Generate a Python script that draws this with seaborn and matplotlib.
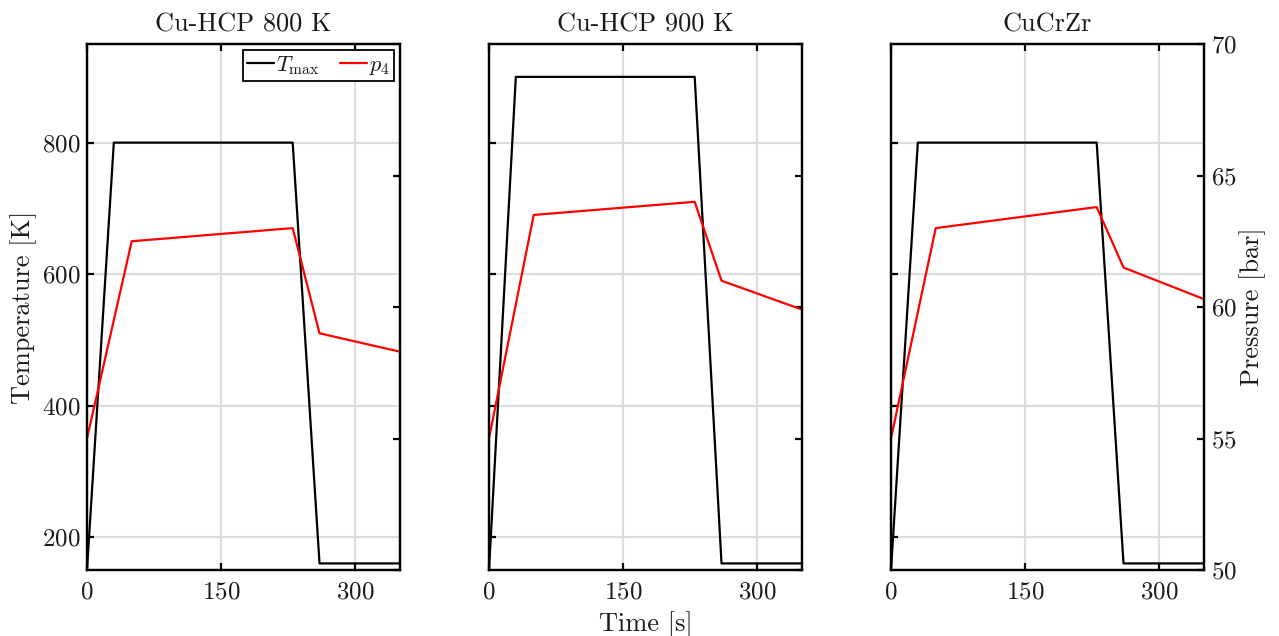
import matplotlib
matplotlib.use("Agg")
import matplotlib.pyplot as plt
import seaborn as sns
import pandas as pd

# Time-history of maximum temperature and pressure p4 for three materials
titles = ["Cu-HCP 800 K", "Cu-HCP 900 K", "CuCrZr"]

t_temp = [0, 30, 230, 260, 350]
temp_800 = [150, 800, 800, 160, 160]
temp_900 = [150, 900, 900, 160, 160]
temp_cucrzr = [150, 800, 800, 160, 160]

t_pres = [0, 50, 230, 260, 350]
pres_800 = [55.0, 62.5, 63.0, 59.0, 58.3]
pres_900 = [55.0, 63.5, 64.0, 61.0, 59.9]
pres_cucrzr = [55.0, 63.0, 63.8, 61.5, 60.3]

temps = [temp_800, temp_900, temp_cucrzr]
pressures = [pres_800, pres_900, pres_cucrzr]

sns.set_theme(style="ticks")
plt.rcParams.update({
    "font.family": "cmr10",
    "mathtext.fontset": "cm",
    "axes.formatter.use_mathtext": True,
    "font.size": 19,
    "axes.linewidth": 1.6,
    "xtick.direction": "in",
    "ytick.direction": "in",
    "xtick.major.size": 5,
    "ytick.major.size": 5,
    "xtick.major.width": 1.6,
    "ytick.major.width": 1.6,
    "xtick.color": "black",
    "ytick.color": "black",
    "axes.edgecolor": "black",
    "text.color": "#1a1a1a",
    "axes.labelcolor": "#1a1a1a",
    "xtick.labelcolor": "#1a1a1a",
    "ytick.labelcolor": "#1a1a1a",
})

fig = plt.figure(figsize=(12.79, 6.36), dpi=100)
lefts = [87, 489, 891]
W, H = 1279, 636
ax_w = 313 / W
ax_b = 1 - 570 / H
ax_h = (570 - 44) / H

for i in range(3):
    ax = fig.add_axes([lefts[i] / W, ax_b, ax_w, ax_h])
    ax2 = ax.twinx()
    df_t = pd.DataFrame({"Time": t_temp, "T": temps[i]})
    df_p = pd.DataFrame({"Time": t_pres, "p": pressures[i]})
    sns.lineplot(data=df_t, x="Time", y="T", ax=ax, color="black", lw=1.6,
                 label=r"$T_\mathrm{max}$", legend=False)
    sns.lineplot(data=df_p, x="Time", y="p", ax=ax2, color="red", lw=1.6,
                 label=r"$p_4$", legend=False)

    ax.set_xlim(0, 350)
    ax.set_ylim(150, 950)
    ax2.set_ylim(50, 70)
    ax.set_xticks([0, 150, 300])
    ax.set_yticks([200, 400, 600, 800])
    ax2.set_yticks([50, 55, 60, 65, 70])
    ax.grid(True, color="#dcdcdc", lw=1.5)
    ax.set_axisbelow(True)
    ax.tick_params(axis="x", top=True, labelsize=18, pad=8)
    ax.tick_params(axis="y", left=True, right=False, labelsize=18, pad=5)
    ax2.tick_params(axis="y", right=True, labelsize=18, pad=5)
    for sp in ax2.spines.values():
        sp.set_visible(True)
        sp.set_linewidth(1.6)
        sp.set_color("black")
    ax.set_title(titles[i], fontsize=19, pad=9)
    ax.set_xlabel("")
    ax.set_ylabel("")
    ax2.set_ylabel("")
    if i != 0:
        ax.set_yticklabels([])
    if i != 2:
        ax2.set_yticklabels([])
    if i == 0:
        ax.set_ylabel("Temperature [K]", fontsize=19, labelpad=3)
        h1, l1 = ax.get_legend_handles_labels()
        h2, l2 = ax2.get_legend_handles_labels()
        leg = ax2.legend(h1 + h2, l1 + l2, loc="upper right", ncol=2,
                         fancybox=False, framealpha=1, edgecolor="black",
                         fontsize=16, handlelength=1.2, handletextpad=0.1,
                         columnspacing=0.9, borderpad=0.2,
                         borderaxespad=0.25)
        leg.get_frame().set_linewidth(1.3)
    if i == 1:
        ax.set_xlabel("Time [s]", fontsize=19, labelpad=6)
    if i == 2:
        ax2.set_ylabel("Pressure [bar]", fontsize=19, labelpad=2)

fig.savefig("out.png", dpi=100)
